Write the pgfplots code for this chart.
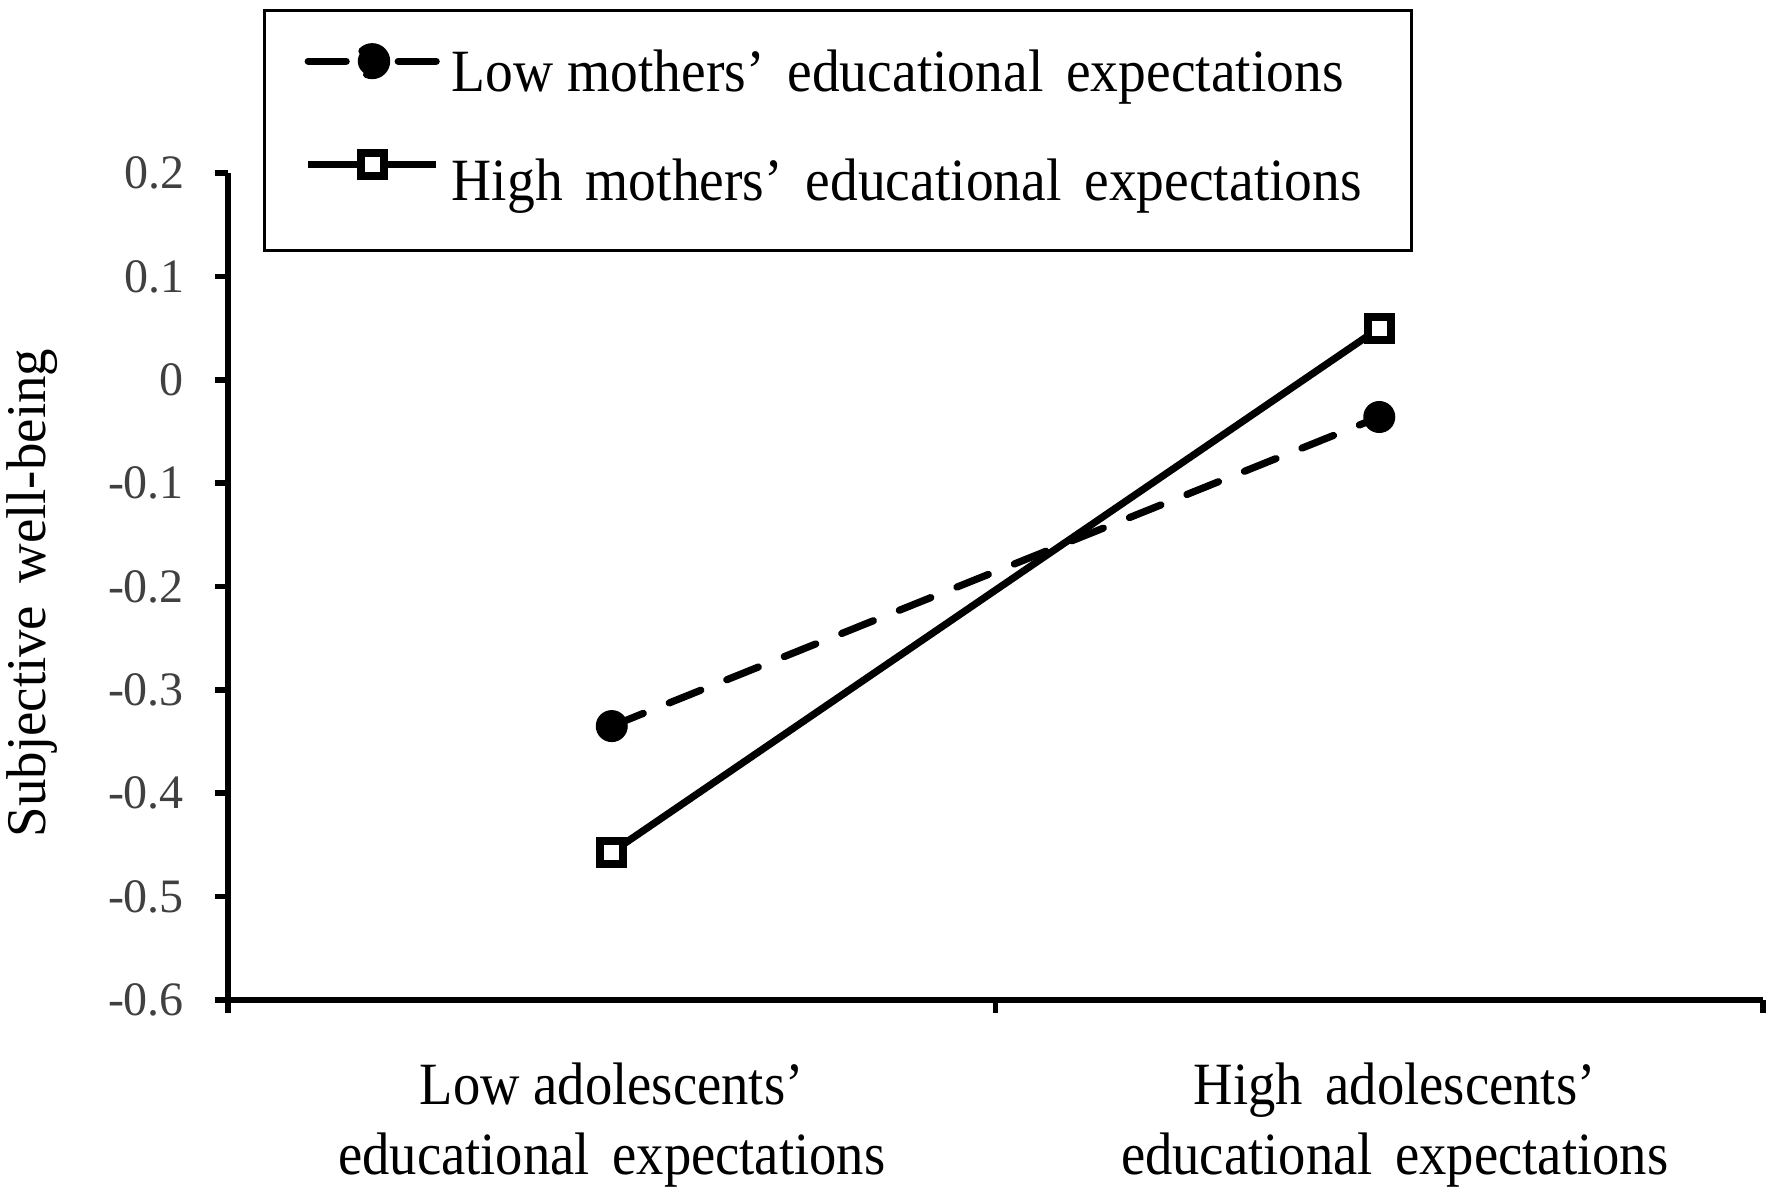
\documentclass[border=0pt]{standalone}
\usepackage{fontspec}
\setmainfont{Liberation Serif}
\newfontfamily\narrow{Liberation Serif}[FakeStretch=0.91]
\newfontfamily\legfont{Liberation Serif}[FakeStretch=0.925]
\newfontfamily\ylab{Liberation Serif}[FakeStretch=0.98]
\usepackage{pgfplots}
\pgfplotsset{compat=1.18}
\newcommand{\gap}{\ \hspace{0.15em}}
\begin{document}
\begin{tikzpicture}
\begin{axis}[
  at={(57pt,47.75pt)}, anchor=south west,
  scale only axis, width=383.75pt, height=206.75pt,
  xmin=0, xmax=2, ymin=-0.6, ymax=0.2,
  axis lines*=left,
  axis line style={line width=1.4pt, black},
  every tick/.style={line width=1.4pt, black},
  tick align=outside, major tick length=3.3pt,
  xtick={0,1,2}, xticklabels={},
  extra x ticks={0.5,1.52},
  extra x tick labels={{Low adolescents’\\educational\gap expectations},{High\gap adolescents’\\educational\gap expectations}},
  extra x tick style={major tick length=0pt, xticklabel style={align=center, anchor=north, inner sep=0pt, yshift=-15.4pt, font={\narrow\fontsize{15pt}{17.5pt}\selectfont}}},
  ytick={-0.6,-0.5,-0.4,-0.3,-0.2,-0.1,0,0.1,0.2},
  yticklabel style={anchor=east, inner sep=0pt, xshift=-7.5pt, text=black!75, font=\fontsize{12pt}{14pt}\selectfont},
  /pgf/number format/assume math mode=true,
  /pgf/number format/fixed,
  ylabel={Subjective\gap well-being},
  ylabel style={at={(axis description cs:-0.1274,0.492)}, anchor=center, font={\ylab\fontsize{14pt}{16pt}\selectfont}},
  clip=false,
  legend cell align=left,
  legend style={at={(rel axis cs:0.0228,1.1983)}, anchor=north west,
    draw=black, line width=0.8pt, inner xsep=10pt, inner ysep=3.5pt,
    column sep=3pt, row sep=6.1pt, nodes={inner sep=0pt},
    font={\legfont\fontsize{15pt}{18pt}\selectfont}},
]
\addplot[black, line width=1.8pt, dash pattern=on 8.5pt off 7pt, line cap=round,
  mark=*, mark size=3.6pt, mark options={solid, fill=black, line width=0.8pt},
  legend image code/.code={
    \draw[black, line width=1.8pt, dash pattern=on 9.5pt off 13pt on 10pt] (0pt,0pt) -- (32pt,0pt);
    \fill[black] (16pt,0pt) circle (3.6pt);}]
  coordinates {(0.5,-0.335) (1.5,-0.036)};
\addlegendentry{\rule[-10pt]{0pt}{26.75pt}\makebox[230pt][l]{Low mothers’\gap educational\gap expectations}}
\addplot[black, line width=1.8pt,
  mark=square*, mark size=2.9pt, mark options={solid, fill=white, draw=black, line width=2pt},
  legend image code/.code={
    \draw[black, line width=1.8pt] (0pt,0pt) -- (32pt,0pt);
    \draw[black, fill=white, line width=2pt] (13.1pt,-2.9pt) rectangle (18.9pt,2.9pt);}]
  coordinates {(0.5,-0.457) (1.5,0.050)};
\addlegendentry{\rule[-10pt]{0pt}{29.6pt}\makebox[230pt][l]{High\gap mothers’\gap educational\gap expectations}}
\addlegendimage{empty legend}
\addlegendentry{\mbox{}}
\end{axis}
\pgfresetboundingbox
\path (0pt,0pt) rectangle (443pt,297.75pt);
\end{tikzpicture}
\end{document}
